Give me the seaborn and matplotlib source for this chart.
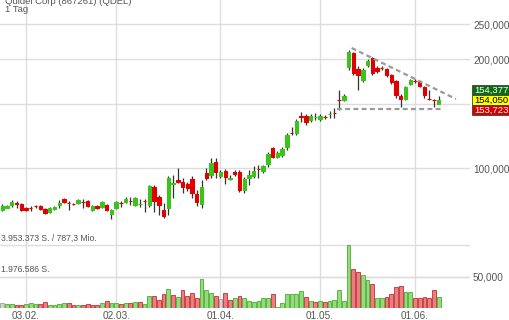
import numpy as np
import pandas as pd
import matplotlib
matplotlib.use("Agg")
import matplotlib.pyplot as plt
import matplotlib.transforms as mtransforms
from matplotlib.patches import Rectangle
from matplotlib.ticker import NullLocator
import seaborn as sns

# ---------------- data ----------------
title = "Quidel Corp (867261) (QDEL)"
interval_label = "1 Tag"

open_ = [76.5, 77.7, 79.0, 80.0, 79.5, 77.5, 77.6, 78.6, 78.5, 77.0,
         75.5, 77.0, 79.0, 82.1, 80.2, 79.7, 80.0, 80.6, 81.0, 76.5,
         78.5, 78.0, 79.0, 74.6, 77.5, 80.2, 80.5, 81.2, 79.0, 79.4,
         81.2, 79.0, 88.6, 83.1, 76.5, 77.5, 90.6, 92.6, 91.5, 90.3,
         93.2, 84.7, 79.5, 96.9, 95.6, 103.9, 95.0, 98.1, 93.5, 97.5,
         97.5, 86.9, 93.8, 95.0, 99.6, 98.1, 102.6, 113.6, 107.3, 108.6,
         114.3, 125.2, 125.0, 139.3, 139.3, 135.8, 138.1, 136.6, 138.6, 140.8,
         142.2, 154.5, 154.2, 190.3, 208.0, 187.9, 175.2, 192.7, 201.5, 189.1,
         189.4, 187.9, 180.8, 174.1, 158.2, 155.2, 170.7, 174.4, 172.9, 167.5,
         155.5, 154.5, 150.8]
high = [79.5, 79.0, 81.6, 81.0, 80.0, 78.0, 78.5, 79.0, 79.0, 77.5,
        78.0, 78.5, 81.6, 82.6, 81.0, 80.0, 82.1, 82.1, 81.6, 79.0,
        79.0, 81.0, 79.5, 77.0, 81.0, 81.0, 83.1, 83.1, 83.1, 82.1,
        82.1, 89.7, 89.7, 84.2, 80.0, 95.0, 95.6, 100.0, 93.8, 91.5,
        95.0, 86.9, 92.6, 100.0, 106.6, 106.6, 98.7, 99.4, 95.6, 98.7,
        98.7, 94.4, 98.7, 101.3, 101.9, 101.9, 110.7, 114.3, 111.5, 114.3,
        125.0, 129.8, 136.6, 142.8, 141.1, 141.1, 142.0, 141.1, 140.2, 143.8,
        146.5, 164.3, 160.2, 212.0, 209.4, 191.5, 189.1, 200.2, 202.8, 191.5,
        191.5, 189.1, 182.0, 175.2, 160.2, 168.6, 176.3, 176.3, 174.1, 168.6,
        164.3, 155.2, 158.2]
low = [76.0, 77.5, 78.0, 77.5, 76.0, 76.0, 76.0, 77.5, 76.5, 74.6,
       75.1, 76.5, 77.5, 80.0, 76.5, 79.0, 79.5, 77.5, 78.0, 76.0,
       77.0, 77.5, 76.0, 72.3, 77.0, 78.0, 80.0, 79.0, 78.5, 78.0,
       75.5, 78.0, 75.5, 74.1, 72.8, 74.1, 82.6, 90.9, 85.3, 86.4,
       82.6, 78.5, 77.5, 92.6, 93.8, 93.8, 93.8, 90.3, 92.6, 95.0,
       85.8, 85.3, 89.7, 93.8, 93.8, 96.9, 100.6, 106.6, 106.6, 107.3,
       112.2, 123.4, 123.4, 134.1, 131.5, 134.1, 135.8, 134.9, 136.6, 137.5,
       137.5, 144.7, 153.2, 186.7, 180.8, 164.3, 172.9, 190.3, 180.8, 183.2,
       186.7, 178.6, 170.7, 156.2, 147.5, 154.2, 169.6, 171.8, 167.5, 156.2,
       154.2, 147.5, 150.3]
close = [78.5, 78.7, 80.5, 79.5, 76.5, 76.7, 77.4, 78.4, 77.0, 75.1,
         77.5, 78.0, 80.0, 80.5, 79.9, 79.4, 81.6, 80.4, 78.5, 78.3,
         77.5, 80.5, 76.5, 76.7, 80.5, 79.9, 82.1, 80.9, 82.6, 79.7,
         80.9, 89.2, 81.0, 79.0, 73.7, 93.8, 91.0, 91.5, 88.6, 88.0,
         85.3, 80.5, 88.6, 93.8, 103.2, 97.5, 97.5, 94.4, 94.1, 96.2,
         86.9, 93.2, 95.6, 98.1, 99.2, 101.3, 109.3, 107.3, 110.0, 112.9,
         123.4, 124.7, 134.9, 138.4, 134.1, 139.3, 138.5, 139.3, 138.1, 141.3,
         141.7, 153.9, 158.2, 209.4, 183.2, 180.8, 186.7, 197.7, 183.2, 185.5,
         188.8, 180.8, 172.9, 159.2, 155.2, 167.5, 175.2, 173.8, 168.6, 159.2,
         154.9, 153.9, 154.05]
volume_mio = [0.31, 0.22, 0.22, 0.16, 0.19, 0.25, 0.31, 0.22, 0.28, 0.35,
              0.16, 0.16, 0.22, 0.31, 0.31, 0.19, 0.19, 0.16, 0.25, 0.19,
              0.19, 0.31, 0.41, 0.31, 0.31, 0.22, 0.31, 0.31, 0.35, 0.35,
              0.25, 0.75, 0.75, 0.50, 0.88, 1.22, 0.82, 0.69, 1.13, 0.75,
              0.94, 0.63, 1.82, 1.13, 0.94, 0.75, 0.56, 0.94, 0.53, 0.63,
              0.78, 0.63, 0.47, 0.38, 0.44, 0.63, 0.63, 0.85, 0.09, 0.31,
              0.88, 0.85, 0.88, 1.04, 0.72, 0.47, 0.38, 0.47, 0.38, 0.44,
              0.53, 1.10, 0.47, 3.953373, 2.42, 2.26, 2.10, 1.73, 1.51, 0.63,
              0.63, 0.67, 0.88, 1.32, 1.41, 1.00, 1.00, 0.63, 0.63, 0.69,
              0.60, 1.10, 0.72]

date_tick_pos = [5, 24, 46, 67, 87]
date_tick_labels = ["03.02.", "02.03.", "01.04.", "01.05.", "01.06."]
price_ticks = [50, 100, 150, 200, 250]
price_tick_labels = ["50,000", "100,000", "150,000", "200,000", "250,000"]
vol_max = 3.953373
vol_labels = ["3.953.373 S. / 787,3 Mio.", "1.976.586 S."]
quote_values = [154.377, 154.050, 153.723]
quote_labels = ["154,377", "154,050", "153,723"]
resist_x = [73.65, 95.64]
resist_y = [214.8, 155.2]
support_x = [70.49, 92.96]
support_y = [145.6, 145.6]

# ---------------- style ----------------
sns.set_theme(style="white")
plt.rcParams["font.family"] = ["Liberation Sans", "DejaVu Sans"]

GREEN = "#3cc21c"
RED = "#e00000"
WICK = "#333333"
GRID = "#dddddd"
TXT = "#555555"

W, H, DPI = 510, 320, 100
fig = plt.figure(figsize=(W / DPI, H / DPI), dpi=DPI)
fig.patch.set_facecolor("white")

ax_l, ax_r, ax_t, ax_b = 0, 470, 0, 308
rect = [ax_l / W, (H - ax_b) / H, (ax_r - ax_l) / W, (ax_b - ax_t) / H]
ax_v = fig.add_axes(rect)
ax_p = fig.add_axes(rect)
ax_v.set_zorder(1)
ax_p.set_zorder(2)
ax_p.patch.set_visible(False)

n = len(close)
idx = np.arange(n)
xlim = (-0.485, 98.6)

# price axis (log)
ax_p.set_yscale("log")
ax_p.set_xlim(*xlim)
ax_p.set_ylim(41.0, 291.6)

# ---------------- volume ----------------
cl = np.array(close)
direction = ["flat"] + ["up" if d > 0 else ("down" if d < 0 else "flat") for d in np.diff(cl)]
vdf = pd.DataFrame({"idx": idx, "vol": volume_mio, "dir": direction})
fill = {"up": "#96d97f", "down": "#e97f7f", "flat": "#d4d4d4"}
edge = {"up": "#5ab843", "down": "#c84444", "flat": "#a8a8a8"}
sns.barplot(data=vdf, x="idx", y="vol", hue="dir", palette=fill, native_scale=True,
            dodge=False, saturation=1, width=0.8, legend=False, errorbar=None,
            ax=ax_v, zorder=2)
rgb2edge = {tuple(np.round(matplotlib.colors.to_rgb(fill[k]), 3)): edge[k] for k in fill}
for p in ax_v.patches:
    key = tuple(np.round(p.get_facecolor()[:3], 3))
    if key in rgb2edge:
        p.set_edgecolor(rgb2edge[key])
        p.set_linewidth(0.7)
ax_v.set_xlim(*xlim)
ax_v.set_ylim(0, vol_max * (ax_b - ax_t) / 63.0)

# grid lines (drawn on the bottom axes)
trans_price = mtransforms.blended_transform_factory(ax_v.transAxes, ax_p.transData)
for pt in price_ticks:
    ax_v.plot([0, 1], [pt, pt], transform=trans_price, color=GRID, lw=1.0, zorder=0)
for xt in date_tick_pos:
    ax_v.axvline(xt, color=GRID, lw=1.0, zorder=0)
ax_v.axhline(vol_max, color=GRID, lw=1.0, zorder=0)
ax_v.axhline(vol_max / 2, color=GRID, lw=1.0, zorder=0)
ax_v.annotate(vol_labels[0], xy=(0.002, vol_max), xycoords=("axes fraction", "data"),
              xytext=(0, 1.5), textcoords="offset points", va="bottom", ha="left",
              fontsize=6.2, color=TXT)
ax_v.annotate(vol_labels[1], xy=(0.002, vol_max / 2), xycoords=("axes fraction", "data"),
              xytext=(0, 1.5), textcoords="offset points", va="bottom", ha="left",
              fontsize=6.2, color=TXT)
ax_v.set_xticks([])
ax_v.set_yticks([])
ax_v.set_xlabel("")
ax_v.set_ylabel("")
for s in ax_v.spines.values():
    s.set_visible(False)

# ---------------- candles ----------------
o = np.array(open_)
c = np.array(close)
colors = [GREEN if cc >= oo else RED for oo, cc in zip(o, c)]
ax_p.vlines(idx, low, high, color=WICK, lw=0.9, zorder=2)
ax_p.bar(idx, np.abs(c - o), bottom=np.minimum(o, c), width=0.72,
         color=colors, edgecolor=colors, linewidth=0.8, zorder=3)

# trend lines
ax_p.plot(resist_x, resist_y, color="#9a9a9a", lw=1.6, dashes=(2.2, 1.5), zorder=4)
ax_p.plot(support_x, support_y, color="#9a9a9a", lw=1.6, dashes=(2.2, 1.5), zorder=4)

# axes ticks
ax_p.yaxis.tick_right()
ax_p.set_yticks(price_ticks)
ax_p.set_yticklabels(price_tick_labels)
ax_p.yaxis.set_minor_locator(NullLocator())
ax_p.set_xticks(date_tick_pos)
ax_p.set_xticklabels(date_tick_labels)
ax_p.tick_params(axis="y", length=0, pad=2.2, labelsize=7.2, labelcolor=TXT)
ax_p.tick_params(axis="x", length=0, pad=2.0, labelsize=7.2, labelcolor=TXT)
for s in ax_p.spines.values():
    s.set_visible(False)
ax_p.grid(False)

# ---------------- quote boxes ----------------
y_mid = ax_p.transData.transform((0, quote_values[1]))[1]  # display px from bottom
box_h, box_x, box_w = 10.0, 472.0, 38.0
box_styles = [("#0d6b12", "white"), ("#ffff00", "black"), ("#d60000", "white")]
for k, (lab, (fc, tc)) in enumerate(zip(quote_labels, box_styles)):
    yc = y_mid + (1 - k) * box_h
    fig.add_artist(Rectangle((box_x / W, (yc - box_h / 2) / H), box_w / W, box_h / H,
                             transform=fig.transFigure, facecolor=fc,
                             edgecolor="#404040", lw=0.6, zorder=10))
    fig.text((box_x + box_w / 2) / W, yc / H, lab, ha="center", va="center",
             fontsize=6.8, color=tc, zorder=11)

# ---------------- title ----------------
fig.text(5 / W, 1 - 4.0 / H, title, ha="left", va="baseline", fontsize=6.8, color=TXT)
fig.text(5 / W, 1 - 12.5 / H, interval_label, ha="left", va="baseline", fontsize=6.8, color=TXT)

fig.savefig("out.png", dpi=DPI)
